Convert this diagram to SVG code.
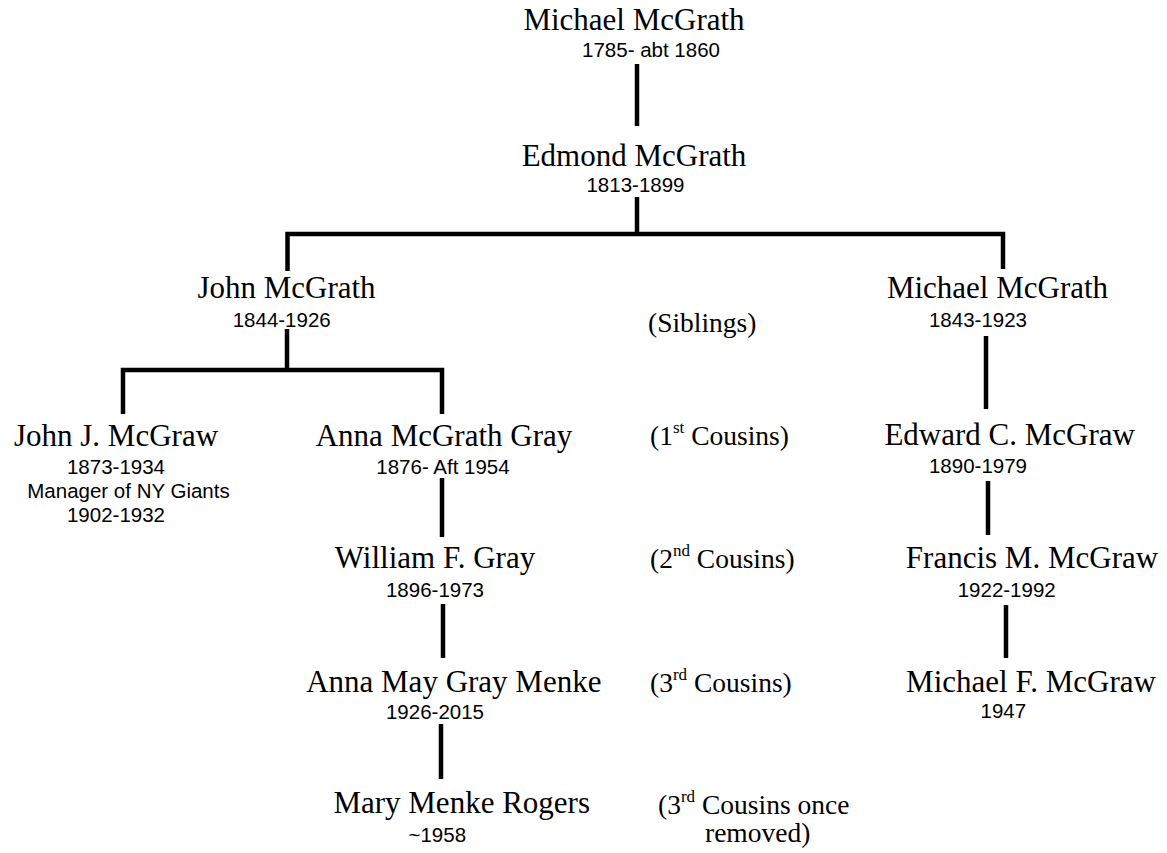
<svg xmlns="http://www.w3.org/2000/svg" width="1167" height="853" viewBox="0 0 1167 853">
<style>
.name{font-family:"Liberation Serif","Times New Roman",serif;font-size:31px;fill:#000;text-anchor:middle}
.date{font-family:"Liberation Sans",Arial,sans-serif;font-size:20.5px;fill:#000;text-anchor:middle}
.rel{font-family:"Liberation Serif","Times New Roman",serif;font-size:27.5px;fill:#000}
.sup{font-size:17px}
.ln{fill:none;stroke:#000;stroke-width:4.5;stroke-linejoin:miter;stroke-linecap:butt}
</style>
<rect width="1167" height="853" fill="#fff"/>
<g id="connectors">
<path class="ln" d="M637,64V126"/>
<path class="ln" d="M637,197V234"/>
<path class="ln" d="M287.5,271V234H1003V269"/>
<path class="ln" d="M287,329V370"/>
<path class="ln" d="M123,414V370H442V414"/>
<path class="ln" d="M442,478V537"/>
<path class="ln" d="M986,336V409"/>
<path class="ln" d="M988,481V535"/>
<path class="ln" d="M443,604V658"/>
<path class="ln" d="M441,724V779"/>
<path class="ln" d="M1006,605V658"/>
</g>
<g id="michael-1785">
<text class="name" x="634" y="30">Michael McGrath</text>
<text class="date" x="651" y="57">1785- abt 1860</text>
</g>
<g id="edmond">
<text class="name" x="634" y="165.5">Edmond McGrath</text>
<text class="date" x="635.5" y="191.5">1813-1899</text>
</g>
<g id="john">
<text class="name" x="286.5" y="298">John McGrath</text>
<text class="date" x="281.7" y="327">1844-1926</text>
</g>
<g id="michael-1843">
<text class="name" x="997.5" y="298">Michael McGrath</text>
<text class="date" x="978" y="326.7">1843-1923</text>
</g>
<g id="john-j">
<text class="name" x="116" y="445.7">John J. McGraw</text>
<text class="date" x="116" y="474">1873-1934</text>
<text class="date" x="128.5" y="497.7">Manager of NY Giants</text>
<text class="date" x="116" y="521.7">1902-1932</text>
</g>
<g id="anna">
<text class="name" x="444" y="446">Anna McGrath Gray</text>
<text class="date" x="443" y="474">1876- Aft 1954</text>
</g>
<g id="edward">
<text class="name" x="1009.7" y="445">Edward C. McGraw</text>
<text class="date" x="978" y="473.3">1890-1979</text>
</g>
<g id="william">
<text class="name" x="435" y="568.3">William F. Gray</text>
<text class="date" x="435" y="597">1896-1973</text>
</g>
<g id="francis">
<text class="name" x="1032" y="568.3">Francis M. McGraw</text>
<text class="date" x="1006.7" y="596.7">1922-1992</text>
</g>
<g id="anna-may">
<text class="name" x="453.8" y="691.7">Anna May Gray Menke</text>
<text class="date" x="435" y="719.3">1926-2015</text>
</g>
<g id="michael-f">
<text class="name" x="1031" y="691.7">Michael F. McGraw</text>
<text class="date" x="1003.3" y="718.3">1947</text>
</g>
<g id="mary">
<text class="name" x="461.7" y="813.3">Mary Menke Rogers</text>
<text class="date" x="437.3" y="841.7">~1958</text>
</g>
<g id="relations">
<text class="rel" x="648" y="331.5">(Siblings)</text>
<text class="rel" x="650" y="445">(1<tspan class="sup" dy="-12">st</tspan><tspan dy="12"> Cousins)</tspan></text>
<text class="rel" x="650" y="568">(2<tspan class="sup" dy="-12">nd</tspan><tspan dy="12"> Cousins)</tspan></text>
<text class="rel" x="650" y="691.7">(3<tspan class="sup" dy="-12">rd</tspan><tspan dy="12"> Cousins)</tspan></text>
<text class="rel" x="658" y="814">(3<tspan class="sup" dy="-12">rd</tspan><tspan dy="12"> Cousins once</tspan></text>
<text class="rel" x="705" y="841.5">removed)</text>
</g>
</svg>
